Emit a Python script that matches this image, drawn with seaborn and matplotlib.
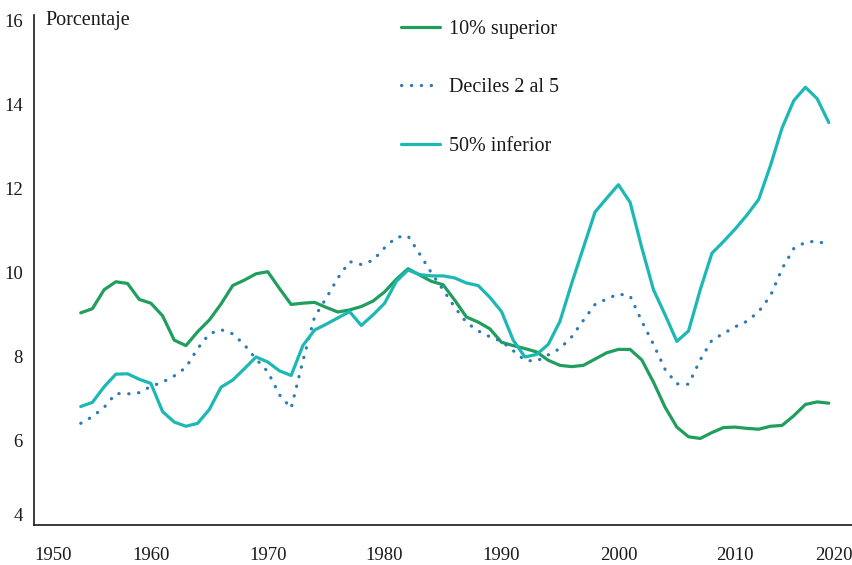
import numpy as np
import pandas as pd
import matplotlib
matplotlib.use("Agg")
import matplotlib.pyplot as plt
import seaborn as sns

years = list(range(1954, 2019))

top10 = [9.05, 9.15, 9.60, 9.79, 9.75, 9.37, 9.28, 8.98, 8.40, 8.27,
         8.60, 8.88, 9.26, 9.70, 9.83, 9.98, 10.03, 9.63, 9.25, 9.28,
         9.30, 9.18, 9.07, 9.12, 9.20, 9.33, 9.55, 9.85, 10.10, 9.95,
         9.80, 9.72, 9.35, 8.95, 8.83, 8.67, 8.35, 8.27, 8.20, 8.12,
         7.92, 7.80, 7.77, 7.80, 7.95, 8.10, 8.18, 8.18, 7.93, 7.40,
         6.80, 6.33, 6.10, 6.06, 6.20, 6.32, 6.33, 6.30, 6.28, 6.35,
         6.37, 6.60, 6.87, 6.93, 6.90]

dec2_5 = [6.42, 6.58, 6.80, 7.13, 7.12, 7.15, 7.30, 7.40, 7.55, 7.75,
          8.20, 8.55, 8.65, 8.55, 8.29, 7.95, 7.65, 7.10, 6.78, 7.90,
          8.95, 9.40, 9.88, 10.27, 10.20, 10.30, 10.60, 10.85, 10.88, 10.45,
          10.00, 9.60, 9.18, 8.82, 8.62, 8.48, 8.37, 8.15, 7.92, 7.90,
          8.05, 8.20, 8.48, 8.87, 9.25, 9.38, 9.50, 9.45, 8.85, 8.30,
          7.70, 7.36, 7.35, 7.93, 8.40, 8.56, 8.72, 8.85, 9.08, 9.45,
          10.10, 10.58, 10.73, 10.76, 10.66]

bottom50 = [6.82, 6.92, 7.29, 7.59, 7.60, 7.47, 7.37, 6.70, 6.45, 6.35,
            6.42, 6.75, 7.28, 7.45, 7.72, 8.00, 7.88, 7.67, 7.56, 8.27,
            8.64, 8.78, 8.93, 9.08, 8.75, 9.00, 9.28, 9.80, 10.07, 9.96,
            9.93, 9.93, 9.88, 9.76, 9.70, 9.42, 9.08, 8.40, 8.00, 8.06,
            8.30, 8.85, 9.75, 10.60, 11.45, 11.78, 12.10, 11.68, 10.60, 9.60,
            9.00, 8.37, 8.62, 9.60, 10.47, 10.75, 11.05, 11.38, 11.75, 12.55,
            13.45, 14.10, 14.42, 14.15, 13.58]

series_names = ["10% superior", "Deciles 2 al 5", "50% inferior"]
xtick_years = [1950, 1960, 1970, 1980, 1990, 2000, 2010, 2020]
ytick_vals = [4, 6, 8, 10, 12, 14, 16]

sns.set_style("white")
plt.rcParams["font.family"] = ["Liberation Serif", "DejaVu Serif"]

fig = plt.figure(figsize=(8.53, 5.65), dpi=100)
ax = fig.add_axes([34 / 853, 40 / 565, 1 - 34 / 853, (525 - 15) / 565])

df_top = pd.DataFrame({"year": years, "value": top10})
df_dec = pd.DataFrame({"year": years, "value": dec2_5})
df_bot = pd.DataFrame({"year": years, "value": bottom50})

green = "#1f9e5e"
blue = "#2b7bb5"
teal = "#1bb8b4"

sns.lineplot(data=df_top, x="year", y="value", ax=ax, color=green, lw=2.3,
             label=series_names[0])
sns.lineplot(data=df_dec, x="year", y="value", ax=ax, color=blue, lw=2.3,
             label=series_names[1])
sns.lineplot(data=df_bot, x="year", y="value", ax=ax, color=teal, lw=2.3,
             label=series_names[2])

dotline = ax.get_lines()[1]
dotline.set_linestyle((0, (0.1, 3.0)))
dotline.set_dash_capstyle("round")

ax.set_xlim(1950.07, 2020.07)
ax.set_ylim(4, 16.14)
ax.set_xticks(xtick_years)
ax.set_xticklabels([str(y) for y in xtick_years])
ax.set_yticks(ytick_vals)
ax.set_yticklabels([str(v) for v in ytick_vals])
ax.set_xlabel("")
ax.set_ylabel("")
ax.tick_params(axis="both", length=0, labelsize=13.5, colors="#1a1a1a")
ax.tick_params(axis="x", pad=16)
ax.tick_params(axis="y", pad=8)
xl = ax.get_xticklabels()
xl[0].set_ha("left")
xl[-1].set_ha("right")
yl = ax.get_yticklabels()
yl[0].set_va("bottom")

for s in ["top", "right"]:
    ax.spines[s].set_visible(False)
for s in ["left", "bottom"]:
    ax.spines[s].set_color("#1a1a1a")
    ax.spines[s].set_linewidth(1.2)

fig.text(45 / 853, 1 - 20 / 565, "Porcentaje", fontsize=14.5, va="center",
         ha="left", color="#1a1a1a")

leg = ax.legend(loc="upper left", bbox_to_anchor=(401 / 853, 1 - 20 / 565),
                bbox_transform=fig.transFigure, frameon=False, fontsize=14.5,
                handlelength=1.95, handletextpad=0.45, labelspacing=1.95,
                borderpad=0, borderaxespad=0)
for t in leg.get_texts():
    t.set_color("#1a1a1a")

fig.savefig("out.png", dpi=100)
